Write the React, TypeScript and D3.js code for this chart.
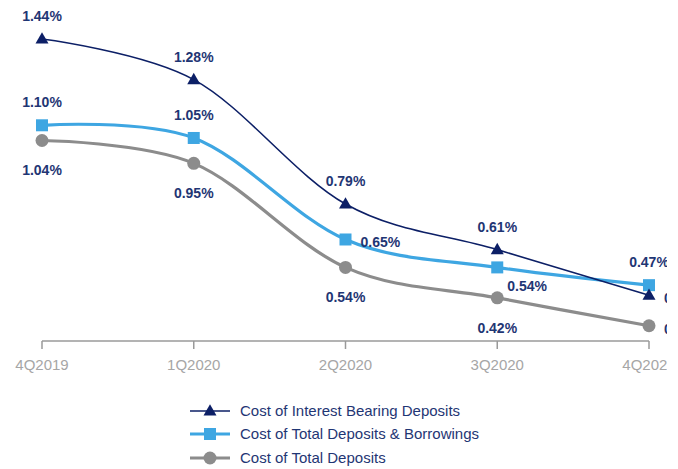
import React from "react";
import * as d3 from "d3";

const categories = ["4Q2019", "1Q2020", "2Q2020", "3Q2020", "4Q2020"];
const interestBearing = [1.44, 1.28, 0.79, 0.61, 0.43];
const depositsBorrowings = [1.1, 1.05, 0.65, 0.54, 0.47];
const totalDeposits = [1.04, 0.95, 0.54, 0.42, 0.31];
const seriesNames = [
  "Cost of Interest Bearing Deposits",
  "Cost of Total Deposits & Borrowings",
  "Cost of Total Deposits",
];

// label placement per point (styling only)
const placeIB = ["above", "above", "above", "above", "right"];
const placeDB = ["above", "above", "right", "belowright", "above"];
const placeTD = ["below", "below", "below", "below", "right"];

const W = 678;
const H = 469;
const CLIP_W = 667;
const NAVY = "#0c1f66";
const BLUE = "#3ea6e2";
const GRAY = "#8c8c8c";
const LABEL = "#1f3674";
const FONT = "Arial, 'Liberation Sans', sans-serif";

const x = d3.scalePoint<string>().domain(categories).range([42, 649]);
const y = d3.scaleLinear().domain([0.25, 1.44]).range([341, 39]);

const line = d3
  .line<number>()
  .x((_, i) => x(categories[i]) as number)
  .y((d) => y(d))
  .curve(d3.curveCatmullRom.alpha(0));

function Marker({ kind, cx, cy, color }: { kind: string; cx: number; cy: number; color: string }) {
  if (kind === "tri") {
    const s = 13;
    const h = s * 0.87;
    return (
      <path
        d={`M${cx},${cy - h * 0.6} L${cx + s / 2},${cy + h * 0.4} L${cx - s / 2},${cy + h * 0.4} Z`}
        fill={color}
      />
    );
  }
  if (kind === "sq") {
    const s = 12;
    return <rect x={cx - s / 2} y={cy - s / 2} width={s} height={s} fill={color} />;
  }
  return <circle cx={cx} cy={cy} r={6.5} fill={color} />;
}

function offset(p: string): [number, number, string] {
  switch (p) {
    case "above":
      return [0, -23, "middle"];
    case "below":
      return [0, 30, "middle"];
    case "right":
      return [15, 3, "start"];
    case "belowright":
      return [10, 19, "start"];
    default:
      return [0, 0, "middle"];
  }
}

export default function App() {
  const series = [
    { vals: interestBearing, color: NAVY, width: 1.6, kind: "tri", place: placeIB },
    { vals: depositsBorrowings, color: BLUE, width: 3.2, kind: "sq", place: placeDB },
    { vals: totalDeposits, color: GRAY, width: 3.2, kind: "circ", place: placeTD },
  ];
  return (
    <svg
      width={W}
      height={H}
      style={{ position: "absolute", left: 0, top: 0, background: "#fff" }}
      fontFamily={FONT}
    >
      <defs>
        <clipPath id="crop">
          <rect x={0} y={0} width={CLIP_W} height={H} />
        </clipPath>
      </defs>
      <rect width={W} height={H} fill="#fff" />
      <g clipPath="url(#crop)">
        {/* axis */}
        <line x1={x(categories[0])} x2={x(categories[4])} y1={341} y2={341} stroke="#9a9a9a" strokeWidth={1.5} />
        {categories.map((c) => (
          <g key={c}>
            <line x1={x(c)} x2={x(c)} y1={341} y2={349} stroke="#9a9a9a" strokeWidth={1.5} />
            <text x={x(c)} y={365} dy="0.35em" textAnchor="middle" fontSize={15} fill="#a6a6a6">
              {c}
            </text>
          </g>
        ))}
        {/* lines: gray first, then blue, then navy */}
        {[...series].reverse().map((s, k) => (
          <path key={k} d={line(s.vals) || ""} fill="none" stroke={s.color} strokeWidth={s.width} />
        ))}
        {[...series].reverse().map((s, k) =>
          s.vals.map((v, i) => (
            <Marker key={`${k}-${i}`} kind={s.kind} cx={x(categories[i]) as number} cy={y(v)} color={s.color} />
          ))
        )}
        {series.map((s, k) =>
          s.vals.map((v, i) => {
            const [dx, dy, anchor] = offset(s.place[i]);
            return (
              <text
                key={`l${k}-${i}`}
                x={(x(categories[i]) as number) + dx}
                y={y(v) + dy}
                dy="0.35em"
                textAnchor={anchor}
                fontSize={14}
                fontWeight="bold"
                fill={LABEL}
              >
                {v.toFixed(2)}%
              </text>
            );
          })
        )}
      </g>
      {/* legend */}
      {series.map((s, k) => {
        const ly = [411, 434, 458][k];
        return (
          <g key={`lg${k}`}>
            <line x1={190} x2={230} y1={ly} y2={ly} stroke={s.color} strokeWidth={s.kind === "tri" ? 1.6 : 3.2} />
            <Marker kind={s.kind} cx={210} cy={ly} color={s.color} />
            <text x={240} y={ly} dy="0.35em" fontSize={15} fill={LABEL}>
              {seriesNames[k]}
            </text>
          </g>
        );
      })}
    </svg>
  );
}
